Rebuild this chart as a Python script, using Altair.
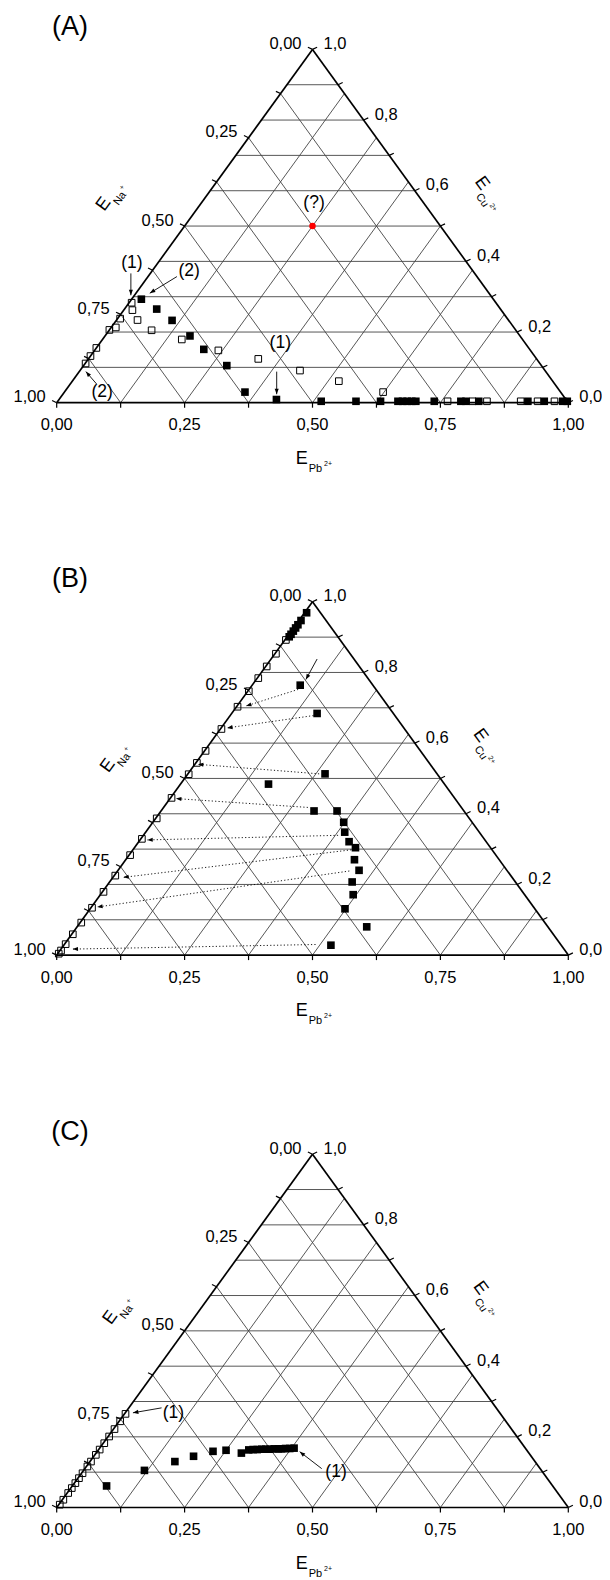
import math
import altair as alt
import pandas as pd

# ---------------- data: ternary compositions (E_Pb, E_Cu); E_Na = 1 - Pb - Cu ----------------
# Panel A
A_open_pb = [0.005, 0.017, 0.005, 0.009, 0.000, 0.000, 0.000, 0.001,
             0.041, 0.083, 0.155, 0.242, 0.332, 0.430, 0.521, 0.623,
             0.762, 0.811, 0.839, 0.905, 0.938, 0.971]
A_open_cu = [0.283, 0.262, 0.238, 0.213, 0.206, 0.155, 0.132, 0.111,
             0.234, 0.205, 0.179, 0.148, 0.124, 0.091, 0.061, 0.030,
             0.004, 0.004, 0.004, 0.004, 0.004, 0.004]
A_fill_pb = [0.019, 0.063, 0.109, 0.166, 0.212, 0.280, 0.353, 0.425,
             0.515, 0.583, 0.631, 0.665, 0.674, 0.683, 0.692, 0.700,
             0.736, 0.788, 0.798, 0.823, 0.919, 0.951, 0.987, 0.996]
A_fill_cu = [0.293, 0.265, 0.233, 0.189, 0.151, 0.105, 0.030, 0.009,
             0.004, 0.004, 0.004, 0.004, 0.004, 0.004, 0.004, 0.004,
             0.004, 0.004, 0.004, 0.004, 0.004, 0.004, 0.004, 0.004]
A_red_pb = [0.25]
A_red_cu = [0.50]
# annotations (x = Pb + Cu/2, y = Cu)
A_note_text = ["(1)", "(2)", "(2)", "(1)", "(?)"]
A_note_x = [0.147, 0.259, 0.089, 0.437, 0.503]
A_note_y = [0.395, 0.374, 0.031, 0.168, 0.566]
A_arrow_x1 = [0.145, 0.235, 0.078, 0.430]
A_arrow_y1 = [0.366, 0.357, 0.053, 0.088]
A_arrow_x2 = [0.145, 0.182, 0.057, 0.430]
A_arrow_y2 = [0.304, 0.310, 0.088, 0.024]

# Panel B
B_open_pb = [0.002] * 22
B_open_cu = [0.892, 0.853, 0.817, 0.784, 0.747, 0.703, 0.640, 0.578, 0.544, 0.512, 0.445,
             0.387, 0.329, 0.283, 0.225, 0.179, 0.134, 0.092, 0.059, 0.031, 0.013, 0.004]
B_fill_pb = [0.004, 0.004, 0.004, 0.004, 0.004, 0.004, 0.004,
             0.094, 0.167, 0.268, 0.172, 0.299, 0.344, 0.373, 0.389, 0.411,
             0.432, 0.447, 0.471, 0.474, 0.494, 0.498, 0.566, 0.522]
B_fill_cu = [0.969, 0.947, 0.935, 0.926, 0.917, 0.908, 0.901,
             0.764, 0.684, 0.513, 0.484, 0.408, 0.408, 0.376, 0.348, 0.321,
             0.304, 0.270, 0.240, 0.207, 0.171, 0.131, 0.080, 0.028]
B_dot_x1 = [0.472, 0.502, 0.513, 0.491, 0.550, 0.576, 0.572, 0.506]
B_dot_y1 = [0.752, 0.678, 0.513, 0.418, 0.339, 0.298, 0.238, 0.030]
B_dot_x2 = [0.370, 0.333, 0.276, 0.233, 0.177, 0.130, 0.079, 0.031]
B_dot_y2 = [0.705, 0.643, 0.540, 0.443, 0.326, 0.220, 0.136, 0.017]
B_arrow_x1 = [0.509]
B_arrow_y1 = [0.838]
B_arrow_x2 = [0.487]
B_arrow_y2 = [0.780]

# Panel C
C_open_pb = [0.002] * 16
C_open_cu = [0.265, 0.244, 0.222, 0.201, 0.182, 0.164, 0.149, 0.130,
             0.116, 0.097, 0.083, 0.069, 0.055, 0.041, 0.022, 0.008]
C_fill_pb = [0.067, 0.119, 0.166, 0.195, 0.226, 0.250, 0.284,
             0.294, 0.302, 0.310, 0.318, 0.326, 0.334, 0.342, 0.350, 0.357, 0.364, 0.372, 0.380]
C_fill_cu = [0.061, 0.105, 0.130, 0.145, 0.159, 0.162, 0.154,
             0.163, 0.164, 0.164, 0.165, 0.165, 0.165, 0.166, 0.166, 0.166, 0.167, 0.167, 0.168]
C_note_text = ["(1)", "(1)"]
C_note_x = [0.228, 0.546]
C_note_y = [0.268, 0.101]
C_arrow_x1 = [0.205, 0.518]
C_arrow_y1 = [0.282, 0.110]
C_arrow_x2 = [0.149, 0.475]
C_arrow_y2 = [0.268, 0.158]

panel_names = ["(A)", "(B)", "(C)"]
panel_label_x = [0.026, 0.026, 0.026]
panel_label_y = [1.064, 1.064, 1.064]
na_title_x = [0.092, 0.100, 0.105]
na_title_y = [0.562, 0.536, 0.537]
cu_title_x = [0.831, 0.828, 0.828]
cu_title_y = [0.621, 0.621, 0.621]
pb_title_x = [0.479, 0.479, 0.479]
pb_title_y = [-0.159, -0.159, -0.159]

bottom_ticks = [0.0, 0.125, 0.25, 0.375, 0.5, 0.625, 0.75, 0.875, 1.0]
bottom_labels = ["0,00", "0,25", "0,50", "0,75", "1,00"]
left_ticks = [0.0, 0.125, 0.25, 0.375, 0.5, 0.625, 0.75, 0.875, 1.0]
left_labels = ["0,00", "0,25", "0,50", "0,75", "1,00"]
right_ticks = [0.0, 0.1, 0.2, 0.3, 0.4, 0.5, 0.6, 0.7, 0.8, 0.9, 1.0]
right_labels = ["0,0", "0,2", "0,4", "0,6", "0,8", "1,0"]
h_grid = [0.1, 0.2, 0.3, 0.4, 0.5, 0.6, 0.7, 0.8, 0.9]
s_grid = [0.125, 0.25, 0.375, 0.5, 0.625, 0.75, 0.875]

# ---------------- geometry ----------------
X_PX, Y_PX = 511.6, 353.3
W, H = 594, 1572
LEFT_PX, BASE_PX, PERIOD_PX = 48.7, 394.7, 552.4
y_top = BASE_PX / Y_PX
xs = alt.Scale(domain=[-LEFT_PX / X_PX, (W - LEFT_PX) / X_PX], nice=False, zero=False)
ys = alt.Scale(domain=[y_top - H / Y_PX, y_top], nice=False, zero=False)
OFF = [0.0, PERIOD_PX / Y_PX, 2 * PERIOD_PX / Y_PX]
FONT = "Liberation Sans"


def X(f="x"):
    return alt.X(f + ":Q", scale=xs, axis=None)


def Y(f="y"):
    return alt.Y(f + ":Q", scale=ys, axis=None)


# grid + edges
grid_rows, edge_rows = [], []
for k in range(3):
    o = OFF[k]
    for c in h_grid:
        grid_rows.append(dict(x=c / 2, y=c - o, x2=1 - c / 2, y2=c - o))
    for c in s_grid:
        grid_rows.append(dict(x=c, y=-o, x2=(1 + c) / 2, y2=1 - c - o))
        grid_rows.append(dict(x=1 - c, y=-o, x2=(1 - c) / 2, y2=1 - c - o))
    edge_rows += [dict(x=0, y=-o, x2=1, y2=-o), dict(x=0, y=-o, x2=0.5, y2=1 - o),
                  dict(x=1, y=-o, x2=0.5, y2=1 - o)]
grid_df = pd.DataFrame(grid_rows)
edge_df = pd.DataFrame(edge_rows)

grid = alt.Chart(grid_df).mark_rule(color="#444444", strokeWidth=0.9).encode(
    x=X(), y=Y(), x2="x2:Q", y2="y2:Q")
edges = alt.Chart(edge_df).mark_rule(color="black", strokeWidth=1.7).encode(
    x=X(), y=Y(), x2="x2:Q", y2="y2:Q")

# ticks and labels
bt, lt, rt, bl, ll, rl = [], [], [], [], [], []
for k in range(3):
    o = OFF[k]
    for v in bottom_ticks:
        bt.append(dict(x=v, y=-o))
    for v in left_ticks:
        lt.append(dict(x=(1 - v) / 2, y=1 - v - o))
    for v in right_ticks:
        rt.append(dict(x=1 - v / 2, y=v - o))
    for i, t in enumerate(bottom_labels):
        v = i * 0.25
        bl.append(dict(x=v, y=-o, t=t))
    for i, t in enumerate(left_labels):
        v = i * 0.25
        ll.append(dict(x=(1 - v) / 2, y=1 - v - o, t=t))
    for i, t in enumerate(right_labels):
        v = i * 0.2
        rl.append(dict(x=1 - v / 2, y=v - o, t=t))


def tick_layer(rows, dx, dy):
    return alt.Chart(pd.DataFrame(rows)).mark_rule(
        color="black", strokeWidth=1.2, x2Offset=dx, y2Offset=dy).encode(
        x=X(), y=Y(), x2="x:Q", y2="y:Q")


ticks = [tick_layer(bt, 0, 5), tick_layer(lt, -4.6, -2.2), tick_layer(rt, 4.6, -2.2)]


def lab_layer(rows, align, dx, dy):
    return alt.Chart(pd.DataFrame(rows)).mark_text(
        font=FONT, fontSize=16.5, color="black", align=align, baseline="middle",
        dx=dx, dy=dy).encode(x=X(), y=Y(), text="t:N")


labels = [lab_layer(bl, "center", 0, 22.5), lab_layer(ll, "right", -11, -5.5),
          lab_layer(rl, "left", 11, -5.5)]


# points
def pts(pb, cu, k):
    return [dict(x=p + c / 2, y=c - OFF[k]) for p, c in zip(pb, cu)]


fill_df = pd.DataFrame(pts(A_fill_pb, A_fill_cu, 0) + pts(B_fill_pb, B_fill_cu, 1) + pts(C_fill_pb, C_fill_cu, 2))
open_df = pd.DataFrame(pts(A_open_pb, A_open_cu, 0) + pts(B_open_pb, B_open_cu, 1) + pts(C_open_pb, C_open_cu, 2))
red_df = pd.DataFrame(pts(A_red_pb, A_red_cu, 0))

filled = alt.Chart(fill_df).mark_square(size=58, color="black", filled=True, opacity=1).encode(x=X(), y=Y())
hollow = alt.Chart(open_df).mark_square(size=44, filled=False, color="black", strokeWidth=1, opacity=1).encode(x=X(), y=Y())
red = alt.Chart(red_df).mark_circle(size=42, color="#ff0000", opacity=1).encode(x=X(), y=Y())


# arrows
def seg(x1, y1, x2, y2, k):
    rows = []
    for a, b, c, d in zip(x1, y1, x2, y2):
        dxp = (c - a) * X_PX
        dyp = -(d - b) * Y_PX
        ang = math.degrees(math.atan2(dxp, -dyp)) % 360
        rows.append(dict(x=a, y=b - OFF[k], x2=c, y2=d - OFF[k], ang=ang))
    return rows


solid_rows = seg(A_arrow_x1, A_arrow_y1, A_arrow_x2, A_arrow_y2, 0) + \
    seg(B_arrow_x1, B_arrow_y1, B_arrow_x2, B_arrow_y2, 1) + \
    seg(C_arrow_x1, C_arrow_y1, C_arrow_x2, C_arrow_y2, 2)
dot_rows = seg(B_dot_x1, B_dot_y1, B_dot_x2, B_dot_y2, 1)
solid_df = pd.DataFrame(solid_rows)
dot_df = pd.DataFrame(dot_rows)
head_df = pd.concat([solid_df, dot_df], ignore_index=True)

solid_lines = alt.Chart(solid_df).mark_rule(color="black", strokeWidth=0.9).encode(
    x=X(), y=Y(), x2="x2:Q", y2="y2:Q")
dot_lines = alt.Chart(dot_df).mark_rule(color="black", strokeWidth=0.9, strokeDash=[1.2, 2.2]).encode(
    x=X(), y=Y(), x2="x2:Q", y2="y2:Q")
heads = alt.Chart(head_df).mark_point(
    shape="M0,0L-0.75,2L0.75,2Z", filled=True, size=30, color="black", opacity=1, strokeWidth=0
).encode(x=X("x2"), y=Y("y2"), angle=alt.Angle("ang:Q", scale=None))

# annotations
note_rows = [dict(x=a, y=b, t=t) for a, b, t in zip(A_note_x, A_note_y, A_note_text)] + \
    [dict(x=a, y=b - OFF[2], t=t) for a, b, t in zip(C_note_x, C_note_y, C_note_text)]
notes = alt.Chart(pd.DataFrame(note_rows)).mark_text(
    font=FONT, fontSize=17.5, color="black", align="center", baseline="middle").encode(
    x=X(), y=Y(), text="t:N")

plab = alt.Chart(pd.DataFrame([dict(x=panel_label_x[k], y=panel_label_y[k] - OFF[k], t=panel_names[k])
                               for k in range(3)])).mark_text(
    font=FONT, fontSize=27, color="black", align="center", baseline="middle").encode(
    x=X(), y=Y(), text="t:N")


# axis titles (E with subscript and superscript)
def title_layers(xl, yl, sub, sup, angle):
    df = pd.DataFrame([dict(x=xl[k], y=yl[k] - OFF[k]) for k in range(3)])
    base = alt.Chart(df)
    parts = [("E", 18, -6, 0), (sub, 11, 7, 10), (sup, 7, 7 + 0.65 * 11 * len(sub) + 1, 5)]
    out = []
    for txt, fs, dx, dy in parts:
        out.append(base.mark_text(font=FONT, fontSize=fs, color="black", align="left",
                                  baseline="middle", dx=dx, dy=dy, angle=angle, text=txt
                                  ).encode(x=X(), y=Y()))
    return out


titles = title_layers(pb_title_x, pb_title_y, "Pb", "2+", 0) + \
    title_layers(na_title_x, na_title_y, "Na", "+", 306) + \
    title_layers(cu_title_x, cu_title_y, "Cu", "2+", 54)

chart = alt.layer(grid, edges, *ticks, *labels, dot_lines, solid_lines, heads,
                  filled, hollow, red, notes, plab, *titles).properties(
    width=W, height=H, autosize=alt.AutoSizeParams(type="none"), padding=0
).configure_view(stroke=None)

chart.save("out.html", embed_options={"renderer": "svg", "actions": False})
